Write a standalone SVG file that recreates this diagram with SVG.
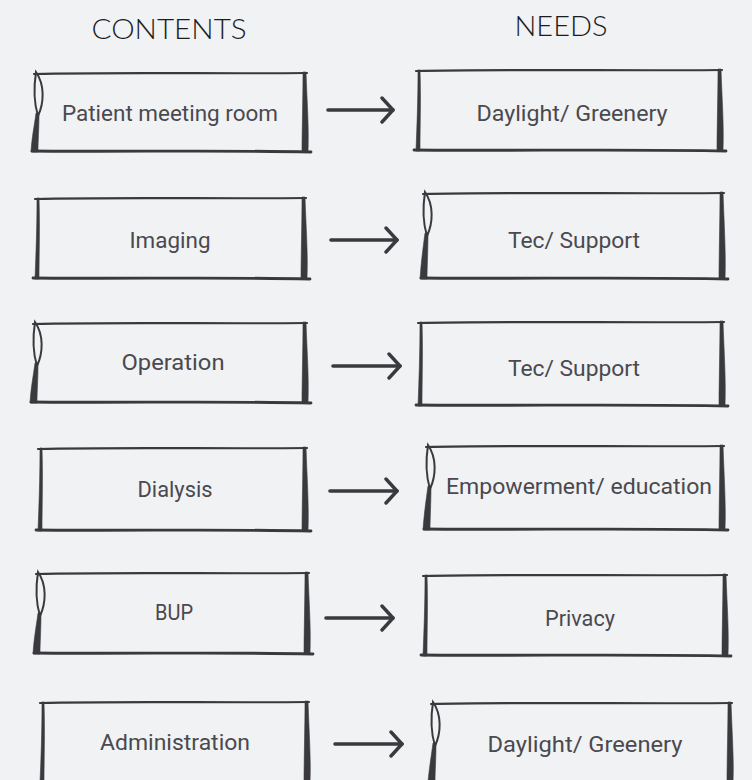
<svg xmlns="http://www.w3.org/2000/svg" width="752" height="780" viewBox="0 0 752 780">
<defs>
<style>
.bg{fill:#f1f2f4}
.edge{fill:none;stroke:#3a393e;stroke-linecap:round}
.top{stroke-width:2.2}
.bot{stroke-width:2.8}
.side{fill:#3a393e;stroke:#3a393e;stroke-width:0.6;stroke-linejoin:round}
.lens{fill:none;stroke:#3a393e;stroke-width:2}
.lbl{font-family:Roboto,"Liberation Sans",sans-serif;font-size:22px;fill:#4a494f;text-anchor:middle}
.hdr{font-family:Lato,"Liberation Sans",sans-serif;font-weight:300;font-size:28px;fill:#1c1c1e;text-anchor:middle}
.arr{fill:none;stroke:#3a393e;stroke-width:3.6;stroke-linecap:round}
</style>
<marker id="chev" viewBox="0 0 16 28" refX="13" refY="14" markerWidth="16" markerHeight="28" markerUnits="userSpaceOnUse" orient="auto">
<path d="M2,2 L13,14 L2,26" fill="none" stroke="#3a393e" stroke-width="3.4" stroke-linecap="round" stroke-linejoin="round"/>
</marker>
</defs>
<rect class="bg" x="0" y="0" width="752" height="780"/>

<g id="headers">
<text class="hdr" x="169" y="38.5" textLength="155" lengthAdjust="spacingAndGlyphs">CONTENTS</text>
<text class="hdr" x="561" y="36" textLength="93" lengthAdjust="spacingAndGlyphs">NEEDS</text>
</g>

<g id="connectors">
<path class="arr" d="M328,110 L393,110" marker-end="url(#chev)"/>
<path class="arr" d="M331,240 L397,240" marker-end="url(#chev)"/>
<path class="arr" d="M333,366 L400,366" marker-end="url(#chev)"/>
<path class="arr" d="M330,491 L397,491" marker-end="url(#chev)"/>
<path class="arr" d="M326,618 L393,618" marker-end="url(#chev)"/>
<path class="arr" d="M335,744 L402,744" marker-end="url(#chev)"/>
</g>

<g id="c1">
<path class="edge top" d="M34,74 C116,72 225,74 307,73"/>
<path class="edge bot" d="M32,151 C116,152 225,150 311,152"/>
<path class="side" d="M303,72 L306,72 C307,103 309,126 308,152 L302,152 C302,131 303,98 303,72 Z"/>
<path class="lens" d="M36,72 C45,85 44,103 38,116 C34,103 34,85 36,72 Z"/>
<path class="side" d="M36,113 L39,113 C39,130 38,141 38,152 L31,152 C32,136 34,128 36,113 Z"/>
<text class="lbl" x="170" y="121" textLength="216" lengthAdjust="spacingAndGlyphs">Patient meeting room</text>
</g>

<g id="n1">
<path class="edge top" d="M416,71 C498,69 640,71 722,70"/>
<path class="edge bot" d="M414,150 C498,151 640,149 726,151"/>
<path class="side" d="M718,69 L721,69 C722,100 724,125 723,151 L717,151 C717,130 718,95 718,69 Z"/>
<path class="side" d="M418,70 L420,70 C421,100 420,125 420,151 L416,151 C417,125 418,100 418,70 Z"/>
<text class="lbl" x="572" y="121" textLength="191" lengthAdjust="spacingAndGlyphs">Daylight/ Greenery</text>
</g>

<g id="c2">
<path class="edge top" d="M35,199 C117,197 224,199 306,198"/>
<path class="edge bot" d="M33,278 C117,279 224,277 310,279"/>
<path class="side" d="M302,197 L305,197 C306,228 308,253 307,279 L301,279 C301,258 302,223 302,197 Z"/>
<path class="side" d="M37,198 L39,198 C40,228 39,253 39,279 L35,279 C36,253 37,228 37,198 Z"/>
<text class="lbl" x="170" y="248" textLength="81" lengthAdjust="spacingAndGlyphs">Imaging</text>
</g>

<g id="n2">
<path class="edge top" d="M423,194 C505,192 642,194 724,193"/>
<path class="edge bot" d="M421,278 C505,279 642,277 728,279"/>
<path class="side" d="M720,192 L723,192 C724,223 726,253 725,279 L719,279 C719,258 720,218 720,192 Z"/>
<path class="lens" d="M425,192 C434,205 433,223 427,236 C423,223 423,205 425,192 Z"/>
<path class="side" d="M425,233 L428,233 C428,250 427,268 427,279 L420,279 C421,263 423,248 425,233 Z"/>
<text class="lbl" x="574" y="248" textLength="132" lengthAdjust="spacingAndGlyphs">Tec/ Support</text>
</g>

<g id="c3">
<path class="edge top" d="M33,324 C115,322 225,324 307,323"/>
<path class="edge bot" d="M31,402 C115,403 225,401 311,403"/>
<path class="side" d="M303,322 L306,322 C307,353 309,377 308,403 L302,403 C302,382 303,347 303,322 Z"/>
<path class="lens" d="M35,322 C44,335 43,353 37,366 C33,353 33,335 35,322 Z"/>
<path class="side" d="M35,363 L38,363 C38,380 37,392 37,403 L30,403 C31,387 33,378 35,363 Z"/>
<text class="lbl" x="173" y="370" textLength="103" lengthAdjust="spacingAndGlyphs">Operation</text>
</g>

<g id="n3">
<path class="edge top" d="M418,323 C500,321 642,323 724,322"/>
<path class="edge bot" d="M416,405 C500,406 642,404 728,406"/>
<path class="side" d="M720,321 L723,321 C724,352 726,380 725,406 L719,406 C719,385 720,347 720,321 Z"/>
<path class="side" d="M420,322 L422,322 C423,352 422,380 422,406 L418,406 C419,380 420,352 420,322 Z"/>
<text class="lbl" x="574" y="376" textLength="132" lengthAdjust="spacingAndGlyphs">Tec/ Support</text>
</g>

<g id="c4">
<path class="edge top" d="M38,449 C120,447 225,449 307,448"/>
<path class="edge bot" d="M36,530 C120,531 225,529 311,531"/>
<path class="side" d="M303,447 L306,447 C307,478 309,505 308,531 L302,531 C302,510 303,473 303,447 Z"/>
<path class="side" d="M40,448 L42,448 C43,478 42,505 42,531 L38,531 C39,505 40,478 40,448 Z"/>
<text class="lbl" x="175" y="497" textLength="75" lengthAdjust="spacingAndGlyphs">Dialysis</text>
</g>

<g id="n4">
<path class="edge top" d="M426,447 C508,445 642,447 724,446"/>
<path class="edge bot" d="M424,529 C508,530 642,528 728,530"/>
<path class="side" d="M720,445 L723,445 C724,476 726,504 725,530 L719,530 C719,509 720,471 720,445 Z"/>
<path class="lens" d="M428,445 C437,458 436,476 430,489 C426,476 426,458 428,445 Z"/>
<path class="side" d="M428,486 L431,486 C431,503 430,519 430,530 L423,530 C424,514 426,501 428,486 Z"/>
<text class="lbl" x="579" y="494" textLength="266" lengthAdjust="spacingAndGlyphs">Empowerment/ education</text>
</g>

<g id="c5">
<path class="edge top" d="M36,574 C118,572 227,574 309,573"/>
<path class="edge bot" d="M34,653 C118,654 227,652 313,654"/>
<path class="side" d="M305,572 L308,572 C309,603 311,628 310,654 L304,654 C304,633 305,598 305,572 Z"/>
<path class="lens" d="M38,572 C47,585 46,603 40,616 C36,603 36,585 38,572 Z"/>
<path class="side" d="M38,613 L41,613 C41,630 40,643 40,654 L33,654 C34,638 36,628 38,613 Z"/>
<text class="lbl" x="174" y="620" textLength="38" lengthAdjust="spacingAndGlyphs">BUP</text>
</g>

<g id="n5">
<path class="edge top" d="M423,576 C505,574 645,576 727,575"/>
<path class="edge bot" d="M421,655 C505,656 645,654 731,656"/>
<path class="side" d="M723,574 L726,574 C727,605 729,630 728,656 L722,656 C722,635 723,600 723,574 Z"/>
<path class="side" d="M425,575 L427,575 C428,605 427,630 427,656 L423,656 C424,630 425,605 425,575 Z"/>
<text class="lbl" x="580" y="626" textLength="70" lengthAdjust="spacingAndGlyphs">Privacy</text>
</g>

<g id="c6">
<path class="edge top" d="M40,703 C122,701 227,703 309,702"/>
<path class="side" d="M305,701 L308,701 C309,732 311,760 310,782 L304,782 C304,760 305,727 305,701 Z"/>
<path class="side" d="M42,702 L44,702 C45,732 44,760 44,782 L40,782 C41,760 42,732 42,702 Z"/>
<text class="lbl" x="175" y="750" textLength="150" lengthAdjust="spacingAndGlyphs">Administration</text>
</g>

<g id="n6">
<path class="edge top" d="M431,704 C513,702 650,704 732,703"/>
<path class="side" d="M728,702 L731,702 C732,733 734,760 733,782 L727,782 C727,760 728,727 728,702 Z"/>
<path class="lens" d="M433,702 C442,715 441,733 435,746 C431,733 431,715 433,702 Z"/>
<path class="side" d="M433,743 L436,743 C436,760 435,772 435,782 L428,782 C429,770 431,758 433,743 Z"/>
<text class="lbl" x="585" y="752" textLength="195" lengthAdjust="spacingAndGlyphs">Daylight/ Greenery</text>
</g>
</svg>
